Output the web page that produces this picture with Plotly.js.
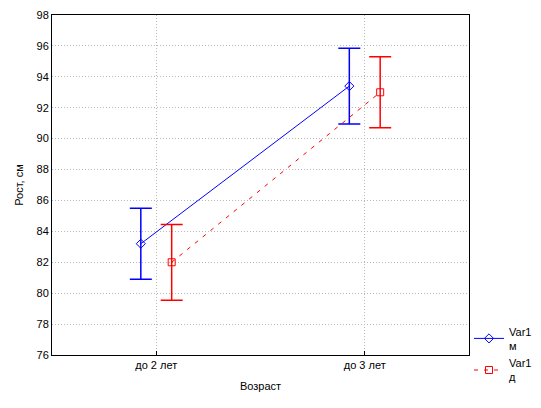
<!DOCTYPE html>
<html><head><meta charset="utf-8">
<script src="https://cdn.plot.ly/plotly-3.0.1.min.js"></script>
<style>html,body{margin:0;padding:0;background:#fff}#c{width:541px;height:408px}</style>
</head><body><div id="c"></div>
<script>
const categories = ["до 2 лет", "до 3 лет"];
const catPos = [0, 1];
const seriesNames = ["Var1<br>м", "Var1<br>д"];
const maleMean = [83.2, 93.4];
const maleErr = [2.3, 2.45];
const femaleMean = [82.0, 93.0];
const femaleErr = [2.45, 2.3];
const yTicks = [76, 78, 80, 82, 84, 86, 88, 90, 92, 94, 96, 98];

const off = 0.074;
const traces = [
  {x: catPos.map(v => v - off), y: maleMean, name: seriesNames[0], type: "scatter", mode: "lines+markers",
   line: {color: "#0000ff", width: 1},
   marker: {symbol: "diamond-open", size: 7, color: "#0000ff", line: {width: 1}},
   error_y: {type: "data", array: maleErr, visible: true, color: "#0000ff", thickness: 1.5, width: 11}},
  {x: catPos.map(v => v + off), y: femaleMean, name: seriesNames[1], type: "scatter", mode: "lines+markers",
   line: {color: "#ff0000", width: 1, dash: "4px,6px"},
   marker: {symbol: "square-open", size: 7, color: "#ff0000", line: {width: 1}},
   error_y: {type: "data", array: femaleErr, visible: true, color: "#ff0000", thickness: 1.5, width: 11}}
];
const layout = {
  width: 541, height: 408,
  margin: {l: 52, r: 72, t: 15, b: 53, autoexpand: false},
  paper_bgcolor: "#fff", plot_bgcolor: "#fff",
  font: {family: "Liberation Sans, Arial, sans-serif", size: 11, color: "#000"},
  showlegend: true,
  legend: {x: 1.0, xanchor: "left", y: 0.11, yanchor: "top", font: {size: 11}, bgcolor: "rgba(0,0,0,0)",
           tracegroupgap: 2, itemwidth: 30},
  xaxis: {range: [-0.5, 1.5], tickvals: catPos, ticktext: categories, showgrid: true,
          gridcolor: "#b8b8b8", griddash: "1px,2px", gridwidth: 1, zeroline: false,
          showline: true, linecolor: "#000", linewidth: 1, mirror: true, ticks: "inside", ticklen: 4, tickcolor: "#000",
          title: {text: "Возраст", font: {size: 11}, standoff: 12}},
  yaxis: {range: [76, 98], tickvals: yTicks, showgrid: true, gridcolor: "#b8b8b8", griddash: "1px,2px", gridwidth: 1,
          zeroline: false, showline: true, linecolor: "#000", linewidth: 1, mirror: true, ticks: "",
          title: {text: "Рост, см", font: {size: 11}, standoff: 10}}
};
Plotly.newPlot("c", traces, layout, {displayModeBar: false, staticPlot: true});
</script></body></html>
